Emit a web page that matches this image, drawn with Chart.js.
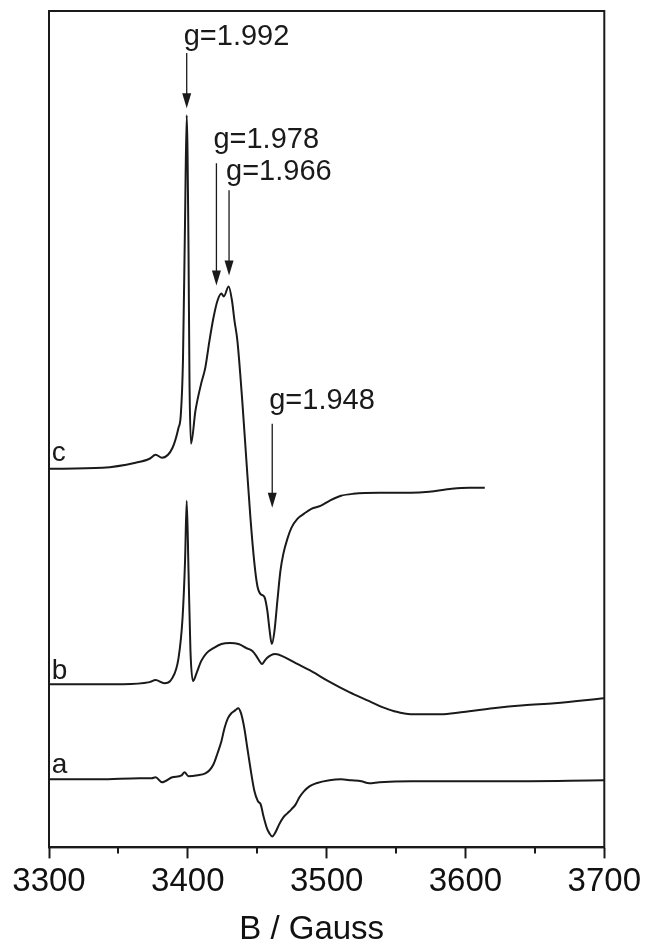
<!DOCTYPE html>
<html>
<head>
<meta charset="utf-8">
<script src="https://cdn.jsdelivr.net/npm/chart.js@4.4.0/dist/chart.umd.min.js"></script>
<style>
  html, body { margin: 0; padding: 0; background: #fff; }
  #wrap { width: 645px; height: 944px; }
</style>
</head>
<body>
<div id="wrap"><canvas id="eprChart"></canvas></div>
<script>
// EPR spectra: field (G) and signal (arb. units, with vertical offsets)
const cField = [3300, 3338.6, 3362.4, 3372.4, 3376.8, 3381.4, 3389, 3393.3, 3394.9, 3396.5, 3398, 3399.2, 3400.5, 3401.2, 3402.3, 3405.5, 3409.6, 3412.6, 3415.6, 3418.5, 3421.4, 3424.2, 3425.9, 3429.4, 3431.8, 3433.6, 3435.7, 3439.2, 3442.2, 3445.1, 3448, 3450.1, 3452.3, 3455.2, 3457.3, 3458.8, 3460.5, 3462.4, 3464.5, 3466.7, 3468.8, 3471.7, 3474.6, 3478.9, 3483.6, 3489, 3495.5, 3502, 3510.3, 3519.2, 3538, 3560.6, 3573.9, 3590.2, 3602.7, 3613.9];
const cSignal = [378, 379, 384, 388, 392, 389, 399, 419, 431, 486, 626, 731, 596, 466, 403, 436, 463, 479, 506, 529, 546, 553, 550, 560, 546, 526, 506, 446, 386, 329, 283, 261, 253, 250, 236, 218, 203, 216, 246, 276, 293, 308, 319, 328, 333, 338, 341, 346, 351, 353, 354, 354, 355, 358, 359, 359];

const bField = [3300, 3353.4, 3372.4, 3376.8, 3383, 3388.8, 3393.3, 3396.2, 3398, 3399.2, 3400.5, 3401.9, 3403.7, 3406.3, 3409.6, 3413.5, 3418.5, 3424.2, 3430.4, 3436.5, 3442.2, 3446.5, 3449.4, 3451.6, 3453.5, 3455.2, 3457, 3460, 3462.9, 3469.6, 3477.7, 3489, 3501.2, 3516.3, 3530.7, 3540.1, 3548.7, 3560.6, 3584.2, 3602.7, 3619.8, 3642.2, 3664.2, 3699.8];
const bSignal = [163, 163, 165, 167, 164, 169, 189, 229, 286, 346, 276, 196, 166, 174, 186, 194, 199, 203, 204, 203, 199, 196, 191, 186, 183, 186, 189, 192, 193, 190, 184, 176, 166, 155, 146, 140, 136, 133, 133, 136, 139, 142, 144, 149];

const aField = [3300, 3336.5, 3365.3, 3373.9, 3376.8, 3381.5, 3388.8, 3395.5, 3397.6, 3400.5, 3407, 3412.6, 3415.6, 3418.5, 3421.4, 3424.2, 3426.4, 3428.9, 3431.4, 3434.3, 3436.3, 3438.3, 3440.7, 3443, 3445.1, 3448, 3450.5, 3452.5, 3454.5, 3457, 3458.8, 3460.8, 3463.1, 3465.8, 3468.8, 3471.7, 3474.6, 3477.7, 3480.4, 3483.6, 3487.6, 3492.5, 3502, 3510.3, 3517.8, 3525, 3530.7, 3538, 3560.6, 3624.2, 3699.8];
const aSignal = [68, 68, 69, 69, 70, 65, 70, 72, 75, 71, 72, 74, 77, 83, 94, 106, 119, 129, 134, 137, 139, 134, 119, 98, 79, 56, 46, 43, 31, 19, 14, 11, 15, 23, 30, 34, 38, 43, 50, 56, 61, 64, 67, 68, 67, 66, 64, 65, 66, 66, 67];

// axis
const fieldMin = 3300, fieldMax = 3700, fieldStep = 100;
const minorTicks = [3350, 3450, 3550, 3650];
const axisTitle = 'B / Gauss';

// g-value markers (field, arrow start/end and text height in signal units)
const gLabels = ['g=1.992', 'g=1.978', 'g=1.966', 'g=1.948'];
const gField = [3399.2, 3420.6, 3429.7, 3460.8];
const gArrowFrom = [793, 683, 656, 423];
const gArrowTo = [738, 561, 571, 339];
const gTextAt = [801, 698, 666, 438];

// curve names
const curveNames = ['a', 'b', 'c'];
const curveNameField = 3302;
const curveNameAt = [74, 168, 386];

const ink = '#1a1a1a';
const fontFamily = '"Liberation Sans", Arial, Helvetica, sans-serif';

function toPoints(field, signal) {
    return field.map((f, i) => ({ x: f, y: signal[i] }));
}

function spectrum(field, signal) {
    return {
        data: toPoints(field, signal),
        borderColor: ink,
        borderWidth: 2,
        pointRadius: 0,
        fill: false,
        cubicInterpolationMode: 'monotone'
    };
}

// рамка, малые деления, стрелки и подписи
const framePlugin = {
    id: 'frame',
    afterDatasetsDraw(chart) {
        const { ctx, chartArea: ca, scales: { x, y } } = chart;
        ctx.save();
        ctx.strokeStyle = ink;
        ctx.fillStyle = ink;
        ctx.lineWidth = 2;
        ctx.strokeRect(ca.left, ca.top, ca.right - ca.left, ca.bottom - ca.top);

        ctx.beginPath();
        for (const v of minorTicks) {
            const px = Math.round(x.getPixelForValue(v));
            ctx.moveTo(px, ca.bottom);
            ctx.lineTo(px, ca.bottom + 6);
        }
        ctx.stroke();

        ctx.lineWidth = 1.3;
        ctx.font = '29px ' + fontFamily;
        ctx.textAlign = 'left';
        ctx.textBaseline = 'alphabetic';
        gLabels.forEach((label, i) => {
            const px = x.getPixelForValue(gField[i]);
            const y0 = y.getPixelForValue(gArrowFrom[i]);
            const y1 = y.getPixelForValue(gArrowTo[i]);
            ctx.beginPath();
            ctx.moveTo(px, y0);
            ctx.lineTo(px, y1 - 14);
            ctx.stroke();
            ctx.beginPath();
            ctx.moveTo(px - 4.5, y1 - 15);
            ctx.lineTo(px + 4.5, y1 - 15);
            ctx.lineTo(px, y1);
            ctx.closePath();
            ctx.fill();
            ctx.fillText(label, px - 3, y.getPixelForValue(gTextAt[i]));
        });

        ctx.font = '28px ' + fontFamily;
        curveNames.forEach((name, i) => {
            ctx.fillText(name, x.getPixelForValue(curveNameField), y.getPixelForValue(curveNameAt[i]));
        });

        // подпись оси (чуть левее центра, как в оригинале)
        ctx.fillStyle = '#111';
        ctx.font = '33px ' + fontFamily;
        ctx.textAlign = 'center';
        ctx.fillText(axisTitle, (ca.left + ca.right) / 2 - 15, chart.height - 5);
        ctx.restore();
    }
};

window.onload = () => {
    const ctx = document.getElementById('eprChart').getContext('2d');
    new Chart(ctx, {
        type: 'line',
        data: {
            datasets: [
                spectrum(aField, aSignal),
                spectrum(bField, bSignal),
                spectrum(cField, cSignal)
            ]
        },
        options: {
            responsive: true,
            maintainAspectRatio: false,
            animation: false,
            layout: { padding: { left: 49, right: 40, top: 11, bottom: 38 } },
            plugins: { legend: { display: false }, tooltip: { enabled: false } },
            scales: {
                x: {
                    type: 'linear',
                    min: fieldMin,
                    max: fieldMax,
                    ticks: {
                        stepSize: fieldStep,
                        color: '#111',
                        padding: 4,
                        maxRotation: 0,
                        font: { family: fontFamily, size: 33 },
                        callback: v => String(v)
                    },
                    grid: {
                        display: true,
                        drawOnChartArea: false,
                        drawTicks: true,
                        tickLength: 11,
                        tickWidth: 2,
                        tickColor: ink
                    },
                    border: { display: true, color: ink, width: 2 },
                    title: { display: false }
                },
                y: {
                    display: false,
                    min: 0,
                    max: 835
                }
            }
        },
        plugins: [framePlugin]
    });
};
</script>
</body>
</html>
